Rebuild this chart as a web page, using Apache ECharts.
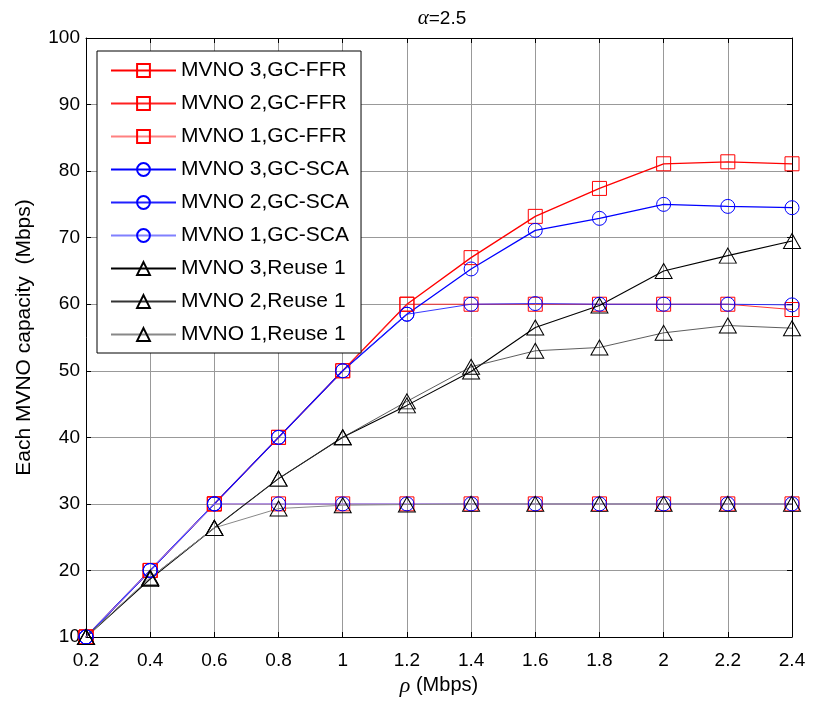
<!DOCTYPE html>
<html><head><meta charset="utf-8">
<script src="https://cdn.jsdelivr.net/npm/echarts@6/dist/echarts.min.js"></script>
<style>html,body{margin:0;padding:0;background:#fff}#c{width:817px;height:706px}</style>
</head><body><div id="c"></div>
<script>
const rho = [0.2,0.4,0.6,0.8,1.0,1.2,1.4,1.6,1.8,2.0,2.2,2.4];
const ffr3 = [10,20,30,40,50,60,67.0,73.2,77.4,81.1,81.4,81.1];
const ffr2 = [10,20,30,40,50,60,60,60,60,60,60,59.2];
const ffr1 = [10,20,30,30,30,30,30,30,30,30,30,30];
const sca3 = [10,20,30,40,50,58.5,65.3,71.1,72.9,75.0,74.7,74.5];
const sca2 = [10,20,30,40,50,58.5,60,60.1,60,60,60,59.9];
const sca1 = [10,20,30,30,30,30,30,30,30,30,30,30];
const reuse3 = [10,18.7,26.4,33.8,40,44.8,49.9,56.5,59.8,65.0,67.3,69.5];
const reuse2 = [10,18.9,26.4,33.8,40,45.4,50.6,53.0,53.5,55.7,56.8,56.4];
const reuse1 = [10,18.9,26.4,29.3,29.8,29.9,30,30,30,30,30,30];
const names = ['MVNO 3,GC-FFR','MVNO 2,GC-FFR','MVNO 1,GC-FFR','MVNO 3,GC-SCA','MVNO 2,GC-SCA','MVNO 1,GC-SCA','MVNO 3,Reuse 1','MVNO 2,Reuse 1','MVNO 1,Reuse 1'];

function mk(name, vals, lineColor, width, markColor, symbol, size, type) {
  return {
    name: name, type: 'line',
    data: rho.map((x, i) => [x, vals[i]]),
    symbol: symbol, symbolSize: size, showSymbol: true,
    lineStyle: { color: lineColor, width: width, type: type || 'solid' },
    itemStyle: { color: 'rgba(255,255,255,0)', borderColor: markColor, borderWidth: 1 },
    emphasis: { disabled: true }, animation: false
  };
}
const series = [
  mk(names[0], ffr3, '#ff0000', 1.3, '#ff0000', 'rect', 14),
  mk(names[1], ffr2, '#ff2020', 0.9, '#ff0000', 'rect', 14),
  mk(names[2], ffr1, '#ff8080', 1, '#ff0000', 'rect', 14),
  mk(names[3], sca3, '#0000ff', 1.3, '#0000ff', 'circle', 14),
  mk(names[4], sca2, '#2020ff', 0.9, '#0000ff', 'circle', 14),
  mk(names[5], sca1, '#8080ff', 1, '#0000ff', 'circle', 14),
  mk(names[6], reuse3, '#000000', 1.1, '#000000', 'triangle', [17, 15]),
  mk(names[7], reuse2, '#333333', 0.8, '#000000', 'triangle', [17, 15]),
  mk(names[8], reuse1, '#888888', 1, '#000000', 'triangle', [17, 15])
];

const chart = echarts.init(document.getElementById('c'), null, { renderer: 'canvas' });
const font = 'Liberation Sans, Arial, sans-serif';
chart.setOption({
  backgroundColor: '#fff',
  animation: false,
  textStyle: { fontFamily: font },
  title: {
    text: '{a|α}{b|=2.5}', left: 437, top: 3, textAlign: 'center',
    textStyle: { fontSize: 19, fontWeight: 'normal', color: '#000', fontFamily: font,
      rich: {
        a: { fontSize: 21, fontStyle: 'italic', fontFamily: 'Liberation Serif, serif', color: '#000' },
        b: { fontSize: 19, fontFamily: font, color: '#000' }
      } }
  },
  grid: { left: 86, right: 25, top: 38, bottom: 69, containLabel: false },
  legend: {
    orient: 'vertical', left: 97, top: 51,
    data: names,
    itemWidth: 65, itemHeight: 16, itemGap: 12,
    padding: [9, 12, 8, 13],
    backgroundColor: '#fff', borderColor: '#000', borderWidth: 1, borderRadius: 0,
    textStyle: { fontSize: 21, color: '#000', fontFamily: font, lineHeight: 21 },
    selectedMode: false
  },
  xAxis: [{
    type: 'value', min: 0.2, max: 2.4, interval: 0.2,
    name: '{r|ρ}{m| (Mbps)}', nameLocation: 'middle', nameGap: 36,
    nameTextStyle: { fontSize: 20, color: '#000', fontFamily: font,
      rich: {
        r: { fontSize: 22, fontStyle: 'italic', fontFamily: 'Liberation Serif, serif', color: '#000' },
        m: { fontSize: 20, fontFamily: font, color: '#000' }
      } },
    axisLine: { lineStyle: { color: '#000', width: 1 } },
    axisTick: { inside: true, length: 5, lineStyle: { color: '#000' } },
    axisLabel: { fontSize: 19, color: '#000', margin: 14, formatter: v => String(Number(v.toFixed(1))) },
    splitLine: { show: true, lineStyle: { color: '#999', width: 1 } }
  }, {
    type: 'value', position: 'top', min: 0.2, max: 2.4, interval: 0.2,
    axisLine: { show: true, lineStyle: { color: '#000', width: 1 } },
    axisTick: { inside: true, length: 5, lineStyle: { color: '#000' } },
    axisLabel: { show: false }, splitLine: { show: false }
  }],
  yAxis: [{
    type: 'value', min: 10, max: 100, interval: 10,
    name: 'Each MVNO capacity  (Mbps)', nameLocation: 'middle', nameGap: 51,
    nameTextStyle: { fontSize: 21, color: '#000', fontFamily: font },
    axisLine: { show: true, lineStyle: { color: '#000', width: 1 } },
    axisTick: { show: true, inside: true, length: 5, lineStyle: { color: '#000' } },
    axisLabel: { fontSize: 19, color: '#000', margin: 6 },
    splitLine: { show: true, lineStyle: { color: '#999', width: 1 } }
  }, {
    type: 'value', position: 'right', min: 10, max: 100, interval: 10,
    axisLine: { show: true, lineStyle: { color: '#000', width: 1 } },
    axisTick: { show: true, inside: true, length: 5, lineStyle: { color: '#000' } },
    axisLabel: { show: false }, splitLine: { show: false }
  }],
  series: series
});
</script>
</body></html>
